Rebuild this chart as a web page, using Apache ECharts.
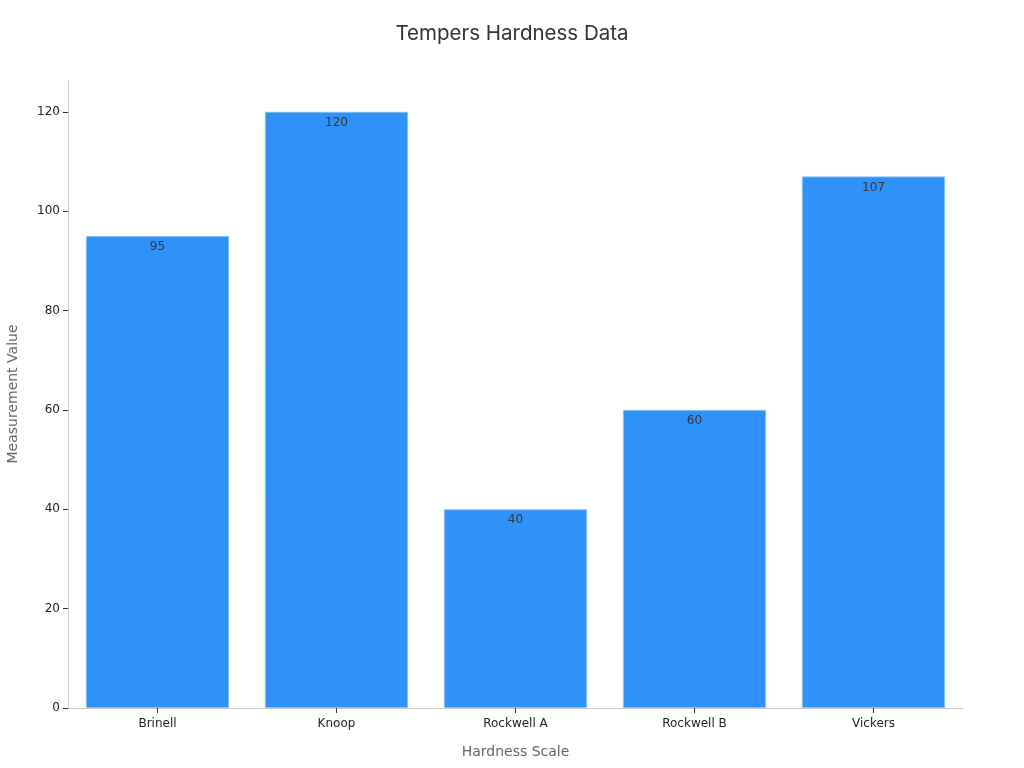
<!DOCTYPE html>
<html><head><meta charset="utf-8">
<script src="https://cdn.jsdelivr.net/npm/echarts@6/dist/echarts.min.js"></script>
<style>html,body{margin:0;padding:0;background:#fff}#c{width:1024px;height:768px}</style>
</head><body><div id="c"></div>
<script>
const categories = ["Brinell", "Knoop", "Rockwell A", "Rockwell B", "Vickers"];
const values = [95, 120, 40, 60, 107];
const yTicks = [0, 20, 40, 60, 80, 100, 120];

const chart = echarts.init(document.getElementById('c'), null, {renderer: 'canvas'});
chart.setOption({
  animation: false,
  backgroundColor: '#ffffff',
  title: {
    text: 'Tempers Hardness Data',
    left: 'center', top: 18,
    textStyle: {fontFamily: 'Inter', fontSize: 20.5, fontWeight: 'normal', color: '#333333'}
  },
  grid: {left: 68, right: 61, top: 80, bottom: 60, containLabel: false, outerBoundsMode: 'none'},
  xAxis: {
    type: 'category',
    data: categories,
    name: 'Hardness Scale',
    nameLocation: 'middle',
    nameGap: 37,
    nameTextStyle: {fontFamily: 'DejaVu Sans', fontSize: 14, color: '#666666'},
    axisLine: {lineStyle: {color: '#cccccc'}},
    axisTick: {show: true, alignWithLabel: true, lineStyle: {color: '#333333'}, length: 5},
    axisLabel: {fontFamily: 'DejaVu Sans', fontSize: 12, color: '#222222', margin: 10}
  },
  yAxis: {
    type: 'value',
    min: 0, max: 126.4, interval: 20,
    name: 'Measurement Value',
    nameLocation: 'middle',
    nameGap: 48,
    nameTextStyle: {fontFamily: 'DejaVu Sans', fontSize: 14, color: '#666666'},
    axisLine: {show: true, lineStyle: {color: '#cccccc'}},
    axisTick: {show: true, length: 5, lineStyle: {color: '#333333'}, customValues: yTicks},
    axisLabel: {fontFamily: 'DejaVu Sans', fontSize: 12, color: '#222222', margin: 8, customValues: yTicks},
    splitLine: {show: false}
  },
  series: [{
    type: 'bar',
    data: values,
    barWidth: '80%',
    itemStyle: {color: '#2f92f8', borderColor: '#80bff8', borderWidth: 1},
    label: {show: true, position: 'insideTop', distance: 5, fontFamily: 'DejaVu Sans', fontSize: 12, color: '#333333'}
  }]
});
</script></body></html>
